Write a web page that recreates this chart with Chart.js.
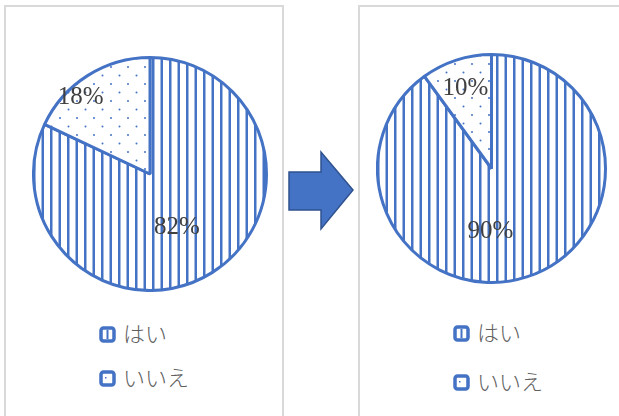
<!DOCTYPE html>
<html>
<head>
<meta charset="utf-8">
<script src="https://cdn.jsdelivr.net/npm/chart.js@4/dist/chart.umd.min.js"></script>
<style>
  html, body { margin: 0; padding: 0; background: #fff; width: 619px; height: 416px; overflow: hidden; }
  .panel { position: absolute; top: 5px; height: 440px; border: 2px solid #d9d9d9; border-bottom: none; box-sizing: border-box; }
  canvas.pie { position: absolute; }
  .legend { position: absolute; font-family: "Noto Sans CJK JP", sans-serif; font-weight: 300; font-size: 22px; color: #606060; }
  .legend .item { position: absolute; white-space: nowrap; height: 22px; line-height: 22px; }
  .legend canvas { position: absolute; left: 0; top: 3px; }
  .legend span { position: absolute; left: 24px; top: -2px; }
  #arrow { position: absolute; left: 0; top: 0; }
</style>
</head>
<body>
<div class="panel" style="left:4px; width:280px;"></div>
<div class="panel" style="left:358px; width:300px;"></div>

<canvas id="pieBefore" class="pie" width="236" height="236" style="left:32px; top:56px;"></canvas>
<canvas id="pieAfter" class="pie" width="231" height="231" style="left:376px; top:53px;"></canvas>

<div class="legend" id="legendBefore" style="left:99px; top:323px;"></div>
<div class="legend" id="legendAfter" style="left:453px; top:322px;"></div>

<svg id="arrow" width="619" height="416">
  <polygon points="289,172 321,172 321,152 353,190 321,229 321,210 289,210"
           fill="#4472C4" stroke="#2F528F" stroke-width="1.5" stroke-linejoin="miter"/>
</svg>

<script>
// データ
const labels = ["はい", "いいえ"];
const before = [82, 18];
const after = [90, 10];

const BLUE = "#4472C4";

// 縦縞パターン
function stripePattern() {
  const c = document.createElement("canvas");
  c.width = 17; c.height = 4;
  const g = c.getContext("2d");
  g.fillStyle = "#fff";
  g.fillRect(0, 0, 17, 4);
  g.fillStyle = BLUE;
  g.fillRect(1, 0, 2.5, 4);
  g.fillRect(9.5, 0, 2.5, 4);
  return c;
}

// ドットパターン
function dotPattern() {
  const c = document.createElement("canvas");
  c.width = 17; c.height = 17;
  const g = c.getContext("2d");
  g.fillStyle = "#fff";
  g.fillRect(0, 0, 17, 17);
  g.fillStyle = BLUE;
  g.beginPath(); g.arc(2.5, 2.5, 1, 0, Math.PI * 2); g.fill();
  g.beginPath(); g.arc(11, 11, 1, 0, Math.PI * 2); g.fill();
  return c;
}

const tiles = [stripePattern(), dotPattern()];

// ラベル位置 (角度: 上から時計回り, 半径比)
const labelPlaceBefore = [[153, 0.51], [318, 0.89]];
const labelPlaceAfter = [[181, 0.55], [342, 0.74]];

const pctLabels = {
  id: "pctLabels",
  afterDatasetsDraw(chart, args, opts) {
    const ctx = chart.ctx;
    const meta = chart.getDatasetMeta(0);
    const values = chart.data.datasets[0].data;
    ctx.save();
    ctx.font = '25px "Liberation Serif", serif';
    ctx.fillStyle = "#404040";
    ctx.textAlign = "center";
    ctx.textBaseline = "middle";
    meta.data.forEach((arc, i) => {
      const [deg, frac] = opts.place[i];
      const a = deg * Math.PI / 180;
      const r = arc.outerRadius * frac;
      ctx.fillText(values[i] + "%", arc.x + Math.sin(a) * r, arc.y - Math.cos(a) * r);
    });
    ctx.restore();
  }
};

function makePie(id, values, place) {
  const ctx = document.getElementById(id).getContext("2d");
  const fills = tiles.map(t => ctx.createPattern(t, "repeat"));
  return new Chart(ctx, {
    type: "pie",
    data: {
      labels,
      datasets: [{
        data: values,
        backgroundColor: fills,
        borderColor: BLUE,
        borderWidth: 3
      }]
    },
    options: {
      responsive: false,
      animation: false,
      events: [],
      layout: { padding: 0 },
      plugins: {
        legend: { display: false },
        tooltip: { enabled: false },
        pctLabels: { place }
      }
    },
    plugins: [pctLabels]
  });
}

function makeLegend(id, gap) {
  const box = document.getElementById(id);
  labels.forEach((lab, i) => {
    const item = document.createElement("div");
    item.className = "item";
    item.style.top = (i * gap) + "px";
    const sw = document.createElement("canvas");
    sw.width = 17; sw.height = 17;
    const g = sw.getContext("2d");
    g.fillStyle = "#fff";
    g.fillRect(0, 0, 17, 17);
    g.fillStyle = BLUE;
    if (i === 0) {
      g.fillRect(7.5, 4, 2, 9);
    } else {
      g.fillRect(6, 7, 1.5, 1.5);
    }
    g.strokeStyle = BLUE;
    g.lineWidth = 3.5;
    g.beginPath();
    g.roundRect(2, 2, 13, 13, 2.5);
    g.stroke();
    const sp = document.createElement("span");
    sp.textContent = lab;
    item.appendChild(sw);
    item.appendChild(sp);
    box.appendChild(item);
  });
}

makePie("pieBefore", before, labelPlaceBefore);
makePie("pieAfter", after, labelPlaceAfter);
makeLegend("legendBefore", 44);
makeLegend("legendAfter", 49);
</script>
</body>
</html>
